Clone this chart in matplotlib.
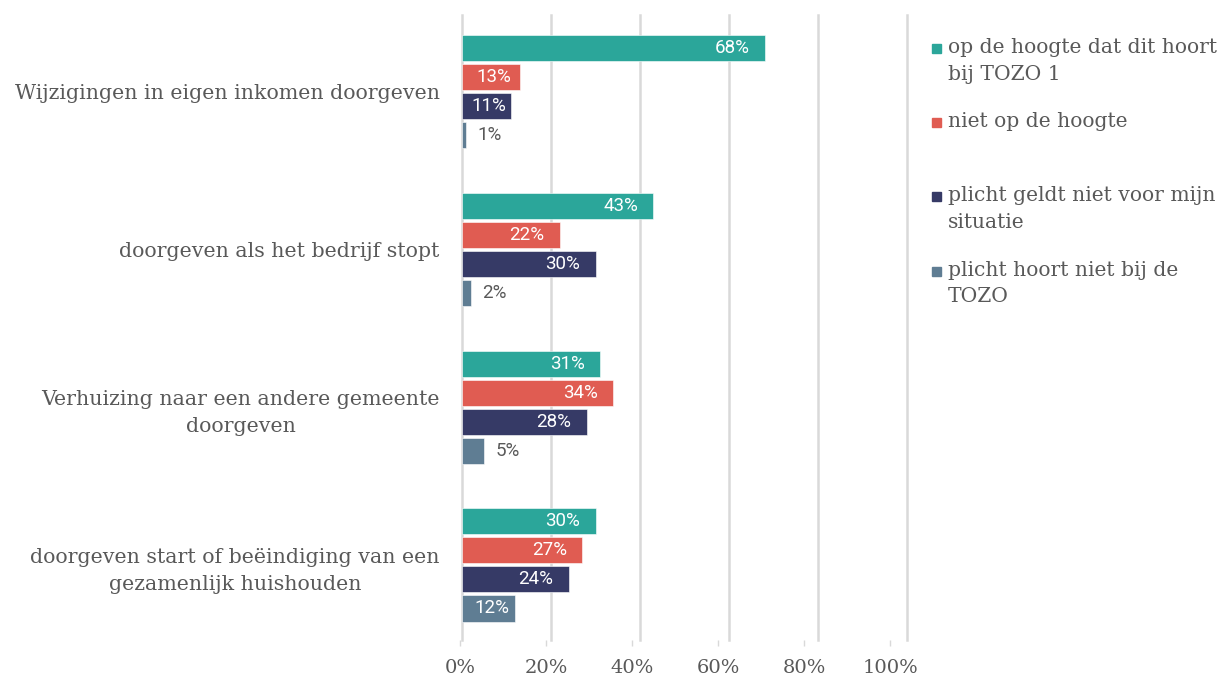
import matplotlib
matplotlib.use("Agg")
import matplotlib.pyplot as plt
from matplotlib.patches import Rectangle

categories = [
    "Wijzigingen in eigen inkomen doorgeven",
    "doorgeven als het bedrijf stopt",
    "Verhuizing naar een andere gemeente\ndoorgeven",
    "doorgeven start of beëindiging van een\ngezamenlijk huishouden",
]
series_names = [
    "op de hoogte dat dit hoort\nbij TOZO 1",
    "niet op de hoogte",
    "plicht geldt niet voor mijn\nsituatie",
    "plicht hoort niet bij de\nTOZO",
]
values = [
    [68, 43, 31, 30],
    [13, 22, 34, 27],
    [11, 30, 28, 24],
    [1, 2, 5, 12],
]
colors = ["#2BA69A", "#E05C52", "#363A66", "#5F7D93"]
xticks = [0, 20, 40, 60, 80, 100]
xticklabels = ["0%", "20%", "40%", "60%", "80%", "100%"]

W, H = 1225, 680
fig = plt.figure(figsize=(W / 100, H / 100), dpi=100)
ax = fig.add_axes([462 / W, 1 - 640 / H, (907 - 462) / W, (640 - 15) / H])
# tick-label axis (labels in the reference sit on a slightly narrower scale)
axt = fig.add_axes([460 / W, 1 - 640 / H, (890 - 460) / W, 0.0001])
axt.patch.set_visible(False)

serif = ["DejaVu Serif"]
txtcol = "#595959"
pitch = 29 / 157.5
bh = 26 / 157.5
lab_fs = 13.5
for s, (vals, c) in enumerate(zip(values, colors)):
    for i, v in enumerate(vals):
        y = i + (s - 1.5) * pitch
        ax.barh(y, v, height=bh, color=c, edgecolor="white", linewidth=0.4, zorder=3)
        lab = f"{v}%"
        if v >= 20:
            ax.annotate(lab, (v, y), xytext=(-11, 0), textcoords="offset points",
                        ha="right", va="center", color="white", fontsize=lab_fs,
                        family="Roboto", zorder=4)
        elif v >= 10:
            ax.annotate(lab, (v / 2, y), xytext=(2, 0), textcoords="offset points",
                        ha="center", va="center", color="white", fontsize=lab_fs,
                        family="Roboto", zorder=4)
        else:
            ax.annotate(lab, (v, y), xytext=(8, 0), textcoords="offset points",
                        ha="left", va="center", color="#595959", fontsize=lab_fs,
                        family="Roboto", zorder=4)

ax.set_xlim(0, 100)
ax.set_ylim(3.476, -0.486)
ax.set_xticks(xticks)
ax.set_xticklabels([])
ax.tick_params(axis="x", length=0)
ax.set_yticks(range(len(categories)))
ax.set_yticklabels(categories, family=serif, fontsize=14.8, color=txtcol,
                   multialignment="center", linespacing=1.55)
ax.tick_params(axis="y", length=0, pad=16)
ax.grid(axis="x", color="#D9D9D9", linewidth=1.8, zorder=0)
for gl in ax.get_xgridlines():
    gl.set_clip_on(False)
for sp in ax.spines.values():
    sp.set_visible(False)

axt.set_xlim(0, 100)
axt.set_yticks([])
axt.set_xticks(xticks)
axt.set_xticklabels(xticklabels, family=serif, fontsize=14, color=txtcol)
axt.tick_params(axis="x", length=4, color="#D9D9D9", width=1, pad=10)
for sp in axt.spines.values():
    sp.set_visible(False)

# legend
leg_y = [48, 122, 196, 271]
for name, c, yy in zip(series_names, colors, leg_y):
    fig.patches.append(Rectangle((932 / W, 1 - (yy + 5) / H), 9 / W, 9 / H,
                                 transform=fig.transFigure, color=c))
    fig.text(948 / W, 1 - (yy - 10) / H, name, family=serif, fontsize=14.6,
             color=txtcol, va="top", ha="left", linespacing=1.5)

fig.savefig("out.png", dpi=100)
